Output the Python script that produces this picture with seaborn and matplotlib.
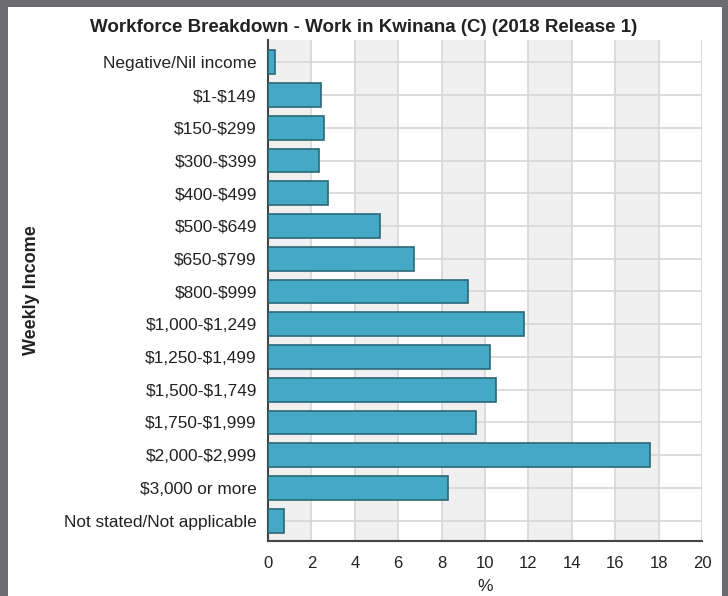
import matplotlib
matplotlib.use("Agg")
import matplotlib.pyplot as plt
import seaborn as sns
import pandas as pd
from matplotlib.patches import Rectangle

# weekly income brackets and share of workforce (%)
brackets = ["Negative/Nil income", "$1-$149", "$150-$299", "$300-$399", "$400-$499",
            "$500-$649", "$650-$799", "$800-$999", "$1,000-$1,249", "$1,250-$1,499",
            "$1,500-$1,749", "$1,750-$1,999", "$2,000-$2,999", "$3,000 or more",
            "Not stated/Not applicable"]
share = [0.3, 2.45, 2.6, 2.35, 2.75, 5.15, 6.75, 9.2, 11.8, 10.25,
         10.5, 9.6, 17.6, 8.3, 0.75]
xticks = list(range(0, 21, 2))

df = pd.DataFrame({"bracket": brackets, "share": share})

sns.set_style("white")
plt.rcParams['font.family'] = ['Liberation Sans', 'DejaVu Sans']
plt.rcParams['text.parse_math'] = False  # keep the $ signs literal

fig = plt.figure(figsize=(7.28, 5.96), dpi=100)
fig.patch.set_facecolor("#6b6b70")
# white card behind the chart
fig.patches.append(Rectangle((8 / 728, 0), 714 / 728, 1 - 7 / 596, transform=fig.transFigure,
                             facecolor="white", edgecolor="none", zorder=-10))

ax = fig.add_axes([268 / 728, 1 - 541 / 596, 434 / 728, 501 / 596])
ax.set_zorder(5)
ax.set_facecolor("white")

# alternating grey bands
for i in range(0, len(xticks) - 1, 2):
    ax.axvspan(xticks[i], xticks[i + 1], color="#f0f0f0", zorder=0, lw=0)

sns.barplot(data=df, x="share", y="bracket", orient="h", color="#45a8c4",
            edgecolor="#2b6878", linewidth=1.2, width=0.73, saturation=1, ax=ax, zorder=3)

ax.set_xlim(0, 20)
ax.set_ylim(14.62, -0.68)
ax.set_xticks(xticks)
ax.grid(True, color="#d6d6d6", lw=1.2, zorder=1)
ax.set_axisbelow(True)
for s in ["top", "right"]:
    ax.spines[s].set_visible(False)
for s in ["left", "bottom"]:
    ax.spines[s].set_color("#444444")
    ax.spines[s].set_linewidth(1.5)
ax.tick_params(axis="both", length=4, width=1.2, color="#444444", labelsize=12.4,
               labelcolor="#222222", direction="out")
ax.tick_params(axis="y", pad=4)
ax.tick_params(axis="x", labelsize=12, pad=6.5)

ax.set_xlabel("%", fontsize=12.5, color="#222222", labelpad=6)
ax.set_ylabel("")
fig.text(32 / 728, 1 - 290 / 596, "Weekly Income", rotation=90, ha="center", va="center",
         fontsize=13, fontweight="bold", color="#222222")
fig.text(364 / 728, 1 - 28 / 596, "Workforce Breakdown - Work in Kwinana (C) (2018 Release 1)",
         ha="center", va="center", fontsize=13.5, fontweight="bold", color="#222222")

fig.savefig("out.png", dpi=100, facecolor=fig.get_facecolor())
